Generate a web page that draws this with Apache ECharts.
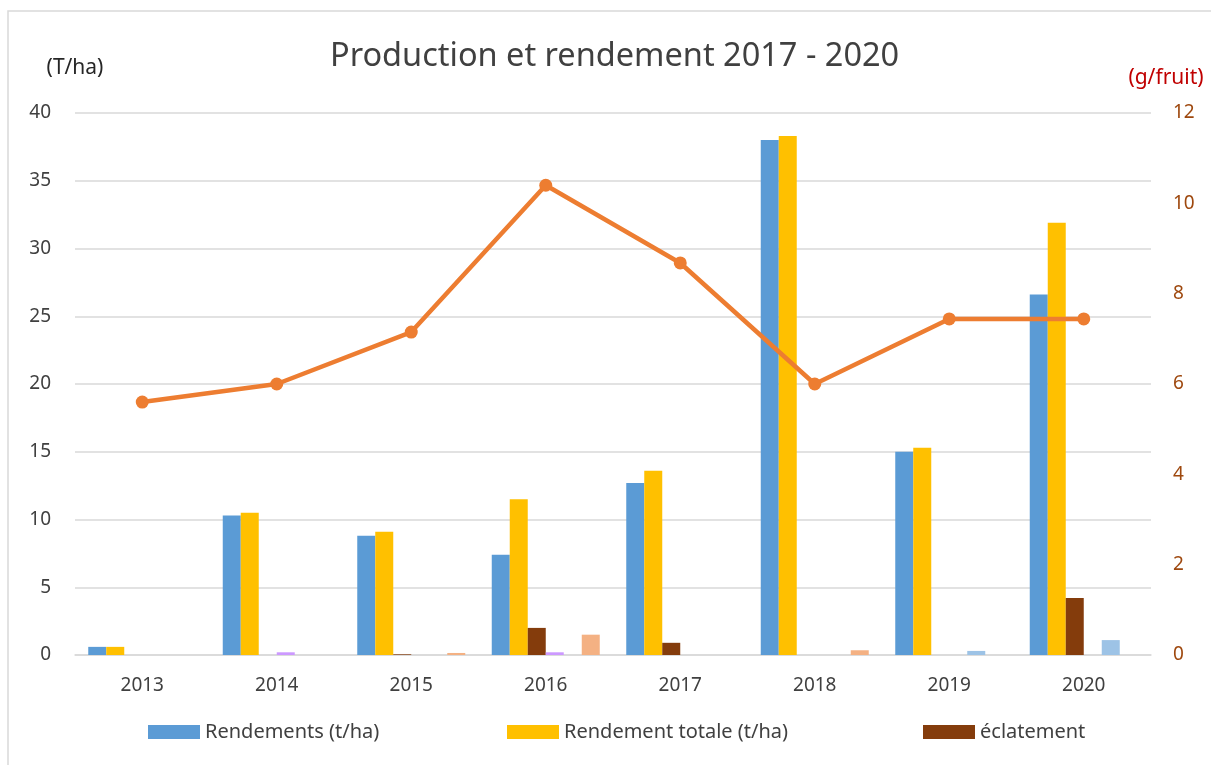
<!DOCTYPE html>
<html>
<head>
<meta charset="utf-8">
<script src="https://cdn.jsdelivr.net/npm/echarts@6/dist/echarts.min.js"></script>
<style>
  html, body { margin: 0; padding: 0; background: #fff; }
  #main { width: 1211px; height: 765px; }
</style>
</head>
<body>
<div id="main"></div>
<script>
// categories
const years = ["2013", "2014", "2015", "2016", "2017", "2018", "2019", "2020"];

// bars (t/ha)
const rendements = [0.6, 10.3, 8.8, 7.4, 12.7, 38.0, 15.0, 26.6];
const rendementTotale = [0.6, 10.5, 9.1, 11.5, 13.6, 38.3, 15.3, 31.9];
const eclatement = [0, 0, 0.05, 2.0, 0.9, 0, 0, 4.2];
// small series not listed in the legend
const serie4 = [0, 0.2, 0, 0.2, 0, 0, 0, 0];
const serie5 = [0, 0, 0, 0, 0, 0, 0.3, 1.1];
const serie6 = [0, 0, 0.15, 1.5, 0, 0.35, 0, 0];

// line (g/fruit)
const poidsFruit = [5.6, 6.0, 7.15, 10.4, 8.68, 6.0, 7.44, 7.44];

const font = "'Noto Sans', 'Open Sans', sans-serif";

function bar(name, data, color) {
  return {
    name: name,
    type: "bar",
    data: data,
    barWidth: 18,
    barGap: "0%",
    itemStyle: { color: color },
    z: 2
  };
}

function legendAt(left, name) {
  return {
    data: [name],
    left: left,
    top: 722,
    padding: 0,
    itemWidth: 52,
    itemHeight: 14,
    itemGap: 6,
    icon: "rect",
    textStyle: { fontFamily: font, fontSize: 20, color: "#404040" }
  };
}

const chart = echarts.init(document.getElementById("main"));
chart.setOption({
  animation: false,
  backgroundColor: "#fff",
  title: {
    text: "Production et rendement 2017 - 2020",
    left: 330,
    top: 40,
    padding: 0,
    textStyle: { fontFamily: font, fontSize: 32.5, fontWeight: "normal", color: "#404040" }
  },
  graphic: [{
    type: "rect",
    shape: { x: 8, y: 11, width: 1230, height: 780 },
    style: { fill: "none", stroke: "#d9d9d9", lineWidth: 1.5 },
    silent: true
  }],
  legend: [
    legendAt(148, "Rendements (t/ha)"),
    legendAt(507, "Rendement totale (t/ha)"),
    legendAt(923, "éclatement")
  ],
  grid: { left: 75, right: 60, top: 113, bottom: 110 },
  xAxis: {
    type: "category",
    data: years,
    axisLine: { lineStyle: { color: "#d9d9d9", width: 1.5 } },
    axisTick: { show: false },
    axisLabel: { fontFamily: font, fontSize: 19, color: "#404040", margin: 21 }
  },
  yAxis: [
    {
      type: "value",
      min: 0,
      max: 40,
      interval: 5,
      name: "(T/ha)",
      nameLocation: "end",
      nameGap: 34,
      nameTextStyle: { fontFamily: font, fontSize: 21, color: "#262626" },
      axisLine: { show: false },
      axisTick: { show: false },
      axisLabel: { fontFamily: font, fontSize: 19, color: "#404040", margin: 24 },
      splitLine: { lineStyle: { color: "#d9d9d9", width: 1.5 } }
    },
    {
      type: "value",
      min: 0,
      max: 12,
      interval: 2,
      name: "(g/fruit)",
      nameLocation: "end",
      nameGap: 24,
      nameTextStyle: { fontFamily: font, fontSize: 21, color: "#c00000", padding: [0, 0, 0, 30] },
      axisLine: { show: false },
      axisTick: { show: false },
      axisLabel: { fontFamily: font, fontSize: 19, color: "#9e480e", margin: 22 },
      splitLine: { show: false }
    }
  ],
  series: [
    bar("Rendements (t/ha)", rendements, "#5b9bd5"),
    bar("Rendement totale (t/ha)", rendementTotale, "#ffc000"),
    bar("éclatement", eclatement, "#843c0c"),
    bar("série 4", serie4, "#cc99ff"),
    bar("série 5", serie5, "#9dc3e6"),
    bar("série 6", serie6, "#f4b183"),
    {
      name: "g/fruit",
      type: "line",
      yAxisIndex: 1,
      data: poidsFruit,
      symbol: "circle",
      symbolSize: 13,
      lineStyle: { color: "#ed7d31", width: 4.5 },
      itemStyle: { color: "#ed7d31" },
      z: 5
    }
  ]
});
</script>
</body>
</html>
